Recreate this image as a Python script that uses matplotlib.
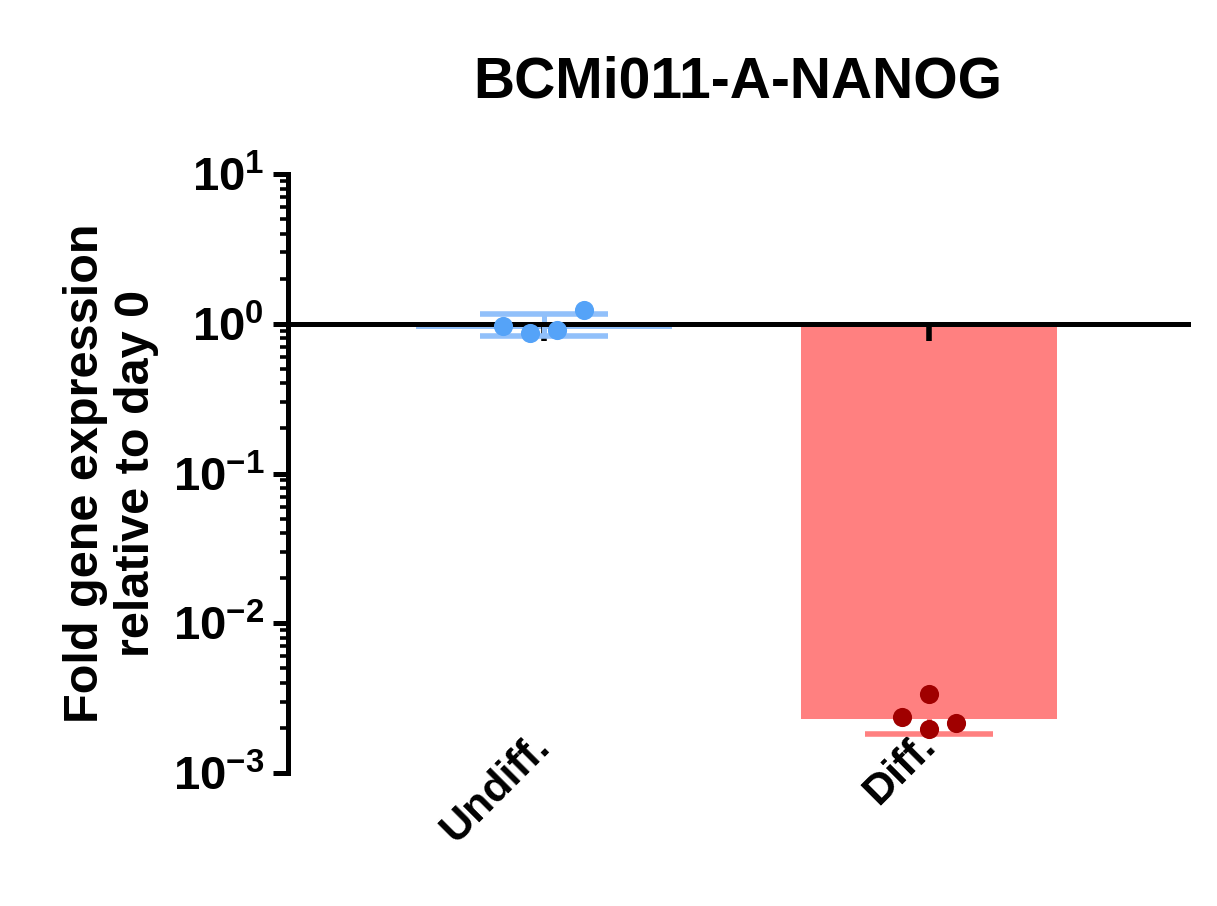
import numpy as np
import matplotlib
matplotlib.use("Agg")
import matplotlib.pyplot as plt

plt.rcParams["font.family"] = ["Liberation Sans", "DejaVu Sans"]
plt.rcParams["font.weight"] = "bold"
plt.rcParams["mathtext.fontset"] = "custom"
plt.rcParams["mathtext.rm"] = "Liberation Sans:bold"
plt.rcParams["mathtext.bf"] = "Liberation Sans:bold"
plt.rcParams["mathtext.it"] = "Liberation Sans:bold"
plt.rcParams["mathtext.default"] = "bf"

# data
groups = ["Undiff.", "Diff."]
bar_values = [0.93, 0.0023]
err_low = [0.832, 0.00183]     # lower end of error bar
err_high = [1.166, 0.00277]    # upper end of error bar
undiff_points = [0.970, 0.871, 0.912, 1.240]
undiff_jitter = [-0.106, -0.036, 0.034, 0.104]
diff_points = [0.00238, 0.00338, 0.00197, 0.00217]
diff_jitter = [-0.071, 0.0, 0.0, 0.069]

bar_colors = ["#91c0fa", "#ff8080"]
point_colors = ["#55a3f8", "#a00000"]

fig = plt.figure(figsize=(12.17, 9.06), dpi=100)
ax = fig.add_axes([0.2366, 0.1468, 0.9762 - 0.2366, 0.8079 - 0.1468])

x = np.arange(len(groups))
vals = np.array(bar_values)

# bars hang from 1 (log baseline)
for i in range(len(groups)):
    ax.bar(x[i], vals[i] - 1, bottom=1, width=0.665, color=bar_colors[i],
           linewidth=0, zorder=1)
    ax.errorbar(x[i], vals[i],
                yerr=[[vals[i] - err_low[i]], [err_high[i] - vals[i]]],
                fmt="none", ecolor=bar_colors[i], elinewidth=3.6,
                capsize=46, capthick=4, zorder=2)

ax.scatter(x[0] + np.array(undiff_jitter), undiff_points, s=190,
           color=point_colors[0], zorder=4, linewidths=0)
ax.scatter(x[1] + np.array(diff_jitter), diff_points, s=190,
           color=point_colors[1], zorder=4, linewidths=0)

ax.set_yscale("log")
ax.set_ylim(1e-3, 1e1)
ax.set_xlim(-0.665, 1.673)
ax.yaxis.set_major_formatter(
    plt.FuncFormatter(lambda v, p: r"$\mathbf{10^{%d}}$" % round(np.log10(v))))

for s in ["top", "right"]:
    ax.spines[s].set_visible(False)
ax.spines["left"].set_linewidth(3.6)
ax.spines["bottom"].set_linewidth(3.6)
ax.spines["bottom"].set_position(("data", 1))
ax.spines["bottom"].set_zorder(3)

ax.set_xticks(x)
ax.tick_params(axis="x", length=12, width=4, labelbottom=False)
ax.tick_params(axis="y", which="major", length=11, width=3.6, labelsize=34, pad=6)
ax.tick_params(axis="y", which="minor", length=6, width=2.6)

sec = ax.secondary_xaxis("bottom")
sec.set_xticks(x)
sec.set_xticklabels(groups, rotation=45, ha="right", va="center",
                    rotation_mode="anchor", fontsize=31, fontweight="bold")
sec.tick_params(length=0, pad=-24)
sec.spines["bottom"].set_visible(False)

ax.set_ylabel("Fold gene expression\nrelative to day 0", fontsize=35,
              fontweight="bold", labelpad=10, linespacing=1.15)
ax.set_title("BCMi011-A-NANOG", fontsize=41, fontweight="bold", pad=55)

fig.savefig("out.png", dpi=100)
